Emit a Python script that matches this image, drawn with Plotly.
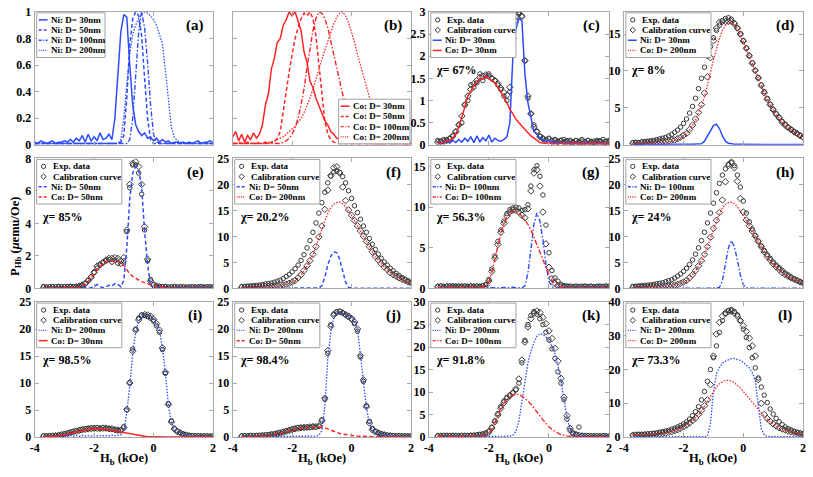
import plotly.graph_objects as go

FONT = "Liberation Serif"
W, H = 813, 477

# ---------------- x grids (kOe) ----------------
H_AB = [round(-4.0 + 0.1 * i, 1) for i in range(61)]
H_FIT = [round(-3.7 + 0.1 * i, 1) for i in range(58)]

# ---------------- (a) Ni reference curves (normalised) ----------------
a_ni30 = [0.02,0.01,0.03,0.02,0.01,0.02,0.03,0.01,0.02,0.02,
          0.03,0.02,0.04,0.02,0.05,0.03,0.07,0.02,0.08,0.03,
          0.06,0.03,0.09,0.04,0.05,0.08,0.04,0.2,0.55,0.85,
          0.98,0.96,0.6,0.3,0.15,0.1,0.07,0.09,0.05,0.06,
          0.03,0.05,0.02,0.04,0.02,0.03,0.01,0.02,0.02,0.01,
          0.02,0.01,0.02,0.01,0.02,0.03,0.01,0.02,0.02,0.03,0.02]
a_ni50 = [0.01,0.01,0.01,0.01,0.01,0.01,0.01,0.01,0.01,0.01,
          0.01,0.01,0.01,0.01,0.01,0.01,0.01,0.01,0.01,0.01,
          0.01,0.01,0.01,0.01,0.01,0.01,0.01,0.01,0.01,0.02,
          0.07,0.35,0.75,0.95,1.0,0.97,0.82,0.5,0.2,0.04,
          0.01,0.01,0.01,0.01,0.01,0.01,0.01,0.01,0.01,0.01,
          0.01,0.01,0.01,0.01,0.01,0.01,0.01,0.01,0.01,0.01,0.01]
a_ni100 = [0.01,0.01,0.01,0.01,0.01,0.01,0.01,0.01,0.01,0.01,
           0.01,0.01,0.01,0.01,0.01,0.01,0.01,0.01,0.01,0.01,
           0.01,0.01,0.01,0.01,0.01,0.01,0.01,0.01,0.01,0.01,
           0.01,0.01,0.04,0.2,0.52,0.85,1.0,0.88,0.62,0.3,
           0.08,0.02,0.01,0.01,0.01,0.01,0.01,0.01,0.01,0.01,
           0.01,0.01,0.01,0.01,0.01,0.01,0.01,0.01,0.01,0.01,0.01]
a_ni200 = [0.01,0.01,0.01,0.01,0.01,0.01,0.01,0.01,0.01,0.01,
           0.01,0.01,0.01,0.01,0.01,0.01,0.01,0.01,0.01,0.01,
           0.01,0.01,0.01,0.01,0.01,0.01,0.01,0.01,0.01,0.04,
           0.2,0.45,0.68,0.83,0.9,0.95,0.98,1.0,0.99,0.97,
           0.94,0.9,0.83,0.76,0.56,0.32,0.13,0.06,0.03,0.02,
           0.01,0.01,0.01,0.01,0.01,0.01,0.01,0.01,0.01,0.01,0.01]

# ---------------- (b) Co reference curves (normalised) ----------------
b_co30 = [0.06,0.1,0.03,0.08,0.02,0.07,0.04,0.09,0.05,0.08,
          0.15,0.3,0.38,0.57,0.65,0.77,0.8,0.9,0.94,1.0,
          0.97,1.0,0.93,0.86,0.7,0.62,0.48,0.43,0.35,0.3,
          0.24,0.18,0.15,0.1,0.08,0.05,0.04,0.03,0.02,0.02,
          0.01,0.02,0.01,0.01,0.02,0.01,0.01,0.02,0.01,0.01,
          0.01,0.01,0.02,0.01,0.01,0.01,0.02,0.01,0.01,0.01,0.01]
b_co50 = [0.01,0.01,0.02,0.01,0.01,0.02,0.01,0.01,0.02,0.01,
          0.01,0.02,0.01,0.02,0.02,0.05,0.1,0.25,0.42,0.55,
          0.68,0.8,0.88,0.95,0.99,0.97,1.0,0.95,0.82,0.6,
          0.36,0.18,0.08,0.04,0.02,0.01,0.01,0.01,0.01,0.01,
          0.01,0.01,0.01,0.01,0.01,0.01,0.01,0.01,0.01,0.01,
          0.01,0.01,0.01,0.01,0.01,0.01,0.01,0.01,0.01,0.01,0.01]
b_co100 = [0.01,0.01,0.01,0.01,0.01,0.01,0.01,0.01,0.01,0.01,
           0.01,0.01,0.01,0.01,0.01,0.01,0.01,0.02,0.03,0.05,
           0.08,0.13,0.2,0.3,0.42,0.58,0.72,0.86,0.95,1.0,
           0.99,0.95,0.88,0.78,0.68,0.57,0.47,0.38,0.3,0.24,
           0.18,0.13,0.09,0.06,0.04,0.03,0.02,0.01,0.01,0.01,
           0.01,0.01,0.01,0.01,0.01,0.01,0.01,0.01,0.01,0.01,0.01]
b_co200 = [0.01,0.01,0.01,0.01,0.01,0.01,0.01,0.01,0.01,0.01,
           0.01,0.01,0.02,0.02,0.03,0.04,0.05,0.06,0.08,0.1,
           0.12,0.14,0.17,0.2,0.24,0.29,0.35,0.42,0.5,0.57,
           0.64,0.71,0.78,0.85,0.91,0.96,0.99,1.0,0.97,0.92,
           0.85,0.77,0.68,0.6,0.51,0.43,0.36,0.3,0.25,0.21,
           0.17,0.14,0.11,0.09,0.07,0.06,0.05,0.04,0.03,0.03,0.02]

# ---------------- (c) ----------------
c_exp = [0.1,0.08,0.12,0.1,0.15,0.2,0.3,0.45,0.5,0.9,
         1.0,1.35,1.3,1.4,1.6,1.45,1.55,1.6,1.5,1.45,
         1.35,1.25,1.1,1.0,1.2,2.3,2.8,2.95,2.9,1.9,
         1.05,0.7,0.45,0.3,0.2,0.15,0.12,0.15,0.1,0.12,
         0.08,0.1,0.12,0.08,0.1,0.06,0.1,0.08,0.12,0.07,
         0.1,0.08,0.06,0.1,0.08,0.12,0.07,0.1]
c_cal = [0.06,0.07,0.08,0.1,0.13,0.2,0.3,0.45,0.65,0.9,
         1.1,1.25,1.38,1.45,1.52,1.55,1.58,1.55,1.5,1.45,
         1.38,1.28,1.18,1.12,1.3,2.4,2.9,3.0,2.9,1.9,
         1.1,0.7,0.4,0.3,0.18,0.14,0.1,0.12,0.08,0.09,
         0.07,0.09,0.06,0.08,0.07,0.06,0.08,0.05,0.07,0.06,
         0.08,0.05,0.07,0.06,0.08,0.05,0.07,0.06]
c_ni = [0.02,0.05,0.03,0.08,0.04,0.1,0.05,0.12,0.06,0.15,
        0.08,0.18,0.05,0.2,0.07,0.16,0.09,0.22,0.06,0.15,
        0.1,0.08,0.12,0.18,0.5,2.0,2.6,2.85,2.8,1.6,
        0.95,0.6,0.3,0.25,0.15,0.12,0.08,0.1,0.05,0.07,
        0.04,0.06,0.03,0.05,0.04,0.03,0.05,0.02,0.04,0.03,
        0.05,0.02,0.04,0.03,0.05,0.02,0.04,0.03]
c_co = [0.05,0.04,0.06,0.08,0.1,0.15,0.25,0.4,0.6,0.85,
        1.1,1.2,1.35,1.4,1.5,1.48,1.55,1.5,1.45,1.4,
        1.3,1.2,1.08,0.95,0.8,0.7,0.58,0.5,0.42,0.35,
        0.28,0.2,0.15,0.1,0.05,0.04,0.03,0.05,0.02,0.03,
        0.02,0.04,0.02,0.03,0.02,0.04,0.03,0.02,0.03,0.02,
        0.03,0.02,0.04,0.02,0.03,0.02,0.03,0.02]

# ---------------- (d) ----------------
d_exp = [0.3,0.35,0.3,0.4,0.45,0.5,0.55,0.6,0.7,0.8,
         0.9,1.0,1.2,1.4,1.7,2.0,2.4,2.9,3.5,4.3,
         5.2,6.3,7.6,9.0,10.5,12.0,13.3,14.5,15.5,16.2,
         16.8,17.1,17.2,17.0,16.5,15.8,15.0,14.1,13.1,12.1,
         11.1,10.1,9.1,8.1,7.2,6.3,5.5,4.8,4.2,3.7,
         3.2,2.8,2.4,2.1,1.8,1.5,1.3,1.0]
d_cal = [0.15,0.2,0.2,0.28,0.26,0.3,0.3,0.38,0.37,0.39,
         0.45,0.45,0.53,0.62,0.66,0.84,1.02,1.3,1.55,2.08,
         2.67,3.48,4.38,5.45,7.0,9.2,11.8,14.1,15.8,16.6,
         16.7,16.7,16.7,16.7,16.4,15.8,15.0,14.05,13.06,12.05,
         11.04,10.05,9.04,8.05,7.04,6.15,5.44,4.75,4.14,3.65,
         3.04,2.65,2.34,2.05,1.74,1.55,1.24,1.05]
d_ni = [0.05,0.08,0.04,0.1,0.06,0.08,0.05,0.1,0.07,0.06,
        0.09,0.05,0.08,0.1,0.06,0.09,0.07,0.1,0.05,0.08,
        0.07,0.08,0.08,0.15,0.5,1.2,2.0,2.6,2.8,2.2,
        1.2,0.5,0.2,0.1,0.08,0.07,0.06,0.05,0.06,0.05,
        0.04,0.05,0.04,0.05,0.04,0.05,0.04,0.05,0.04,0.05,
        0.04,0.05,0.04,0.05,0.04,0.05,0.04,0.05]
d_co = [0.1,0.12,0.15,0.18,0.2,0.22,0.25,0.28,0.3,0.33,
        0.36,0.4,0.45,0.52,0.6,0.75,0.95,1.2,1.5,2.0,
        2.6,3.4,4.3,5.3,6.5,8.0,9.8,11.5,13.0,14.4,
        15.5,16.2,16.5,16.6,16.3,15.7,14.9,14.0,13.0,12.0,
        11.0,10.0,9.0,8.0,7.0,6.1,5.4,4.7,4.1,3.6,
        3.0,2.6,2.3,2.0,1.7,1.5,1.2,1.0]

# ---------------- (e) ----------------
e_exp = [0.12,0.08,0.1,0.12,0.1,0.13,0.09,0.11,0.1,0.12,
         0.1,0.12,0.14,0.2,0.3,0.5,0.72,0.98,1.25,1.45,
         1.62,1.7,1.78,1.62,1.75,1.55,1.5,1.7,3.5,6.2,
         7.6,7.6,7.1,5.8,3.6,1.7,0.55,0.25,0.15,0.12,
         0.1,0.12,0.08,0.1,0.12,0.09,0.11,0.1,0.08,0.1,
         0.11,0.09,0.1,0.12,0.08,0.1,0.11,0.09]
e_cal = [0.05,0.06,0.05,0.06,0.05,0.07,0.06,0.08,0.08,0.1,
         0.08,0.1,0.15,0.22,0.3,0.48,0.7,1.0,1.38,1.48,
         1.6,1.75,1.85,1.85,1.9,1.85,1.7,1.9,3.6,6.4,
         7.7,7.8,7.5,6.4,3.8,1.8,0.45,0.2,0.15,0.1,
         0.08,0.06,0.05,0.05,0.05,0.05,0.05,0.05,0.05,0.05,
         0.05,0.05,0.05,0.05,0.05,0.05,0.05,0.05]
e_ni = [0.02,0.03,0.02,0.03,0.02,0.03,0.02,0.04,0.03,0.05,
        0.03,0.06,0.1,0.08,0.05,0.03,0.05,0.1,0.25,0.12,
        0.05,0.1,0.2,0.15,0.3,0.25,0.1,0.5,2.5,5.5,
        7.1,7.5,7.3,6.2,3.5,1.5,0.2,0.05,0.03,0.02,
        0.02,0.03,0.02,0.02,0.03,0.02,0.02,0.03,0.02,0.02,
        0.02,0.03,0.02,0.02,0.03,0.02,0.02,0.02]
e_co = [0.02,0.02,0.03,0.02,0.03,0.03,0.03,0.03,0.04,0.04,
        0.04,0.05,0.07,0.15,0.25,0.45,0.65,0.9,1.15,1.38,
        1.55,1.65,1.7,1.72,1.7,1.67,1.6,1.42,1.15,0.9,
        0.75,0.62,0.52,0.42,0.35,0.29,0.23,0.17,0.12,0.09,
        0.06,0.04,0.03,0.02,0.02,0.02,0.02,0.02,0.02,0.02,
        0.02,0.02,0.02,0.02,0.02,0.02,0.02,0.02]

# ---------------- (f) ----------------
f_exp = [0.35,0.4,0.45,0.5,0.55,0.6,0.65,0.75,0.85,0.95,
         1.05,1.2,1.4,1.6,1.9,2.3,2.7,3.2,3.8,4.5,
         5.4,6.5,7.8,9.2,10.8,12.6,14.5,16.5,18.5,20.3,
         21.6,22.4,22.6,22.3,21.5,20.3,18.8,17.3,15.9,14.6,
         13.3,12.0,10.8,9.6,8.5,7.5,6.6,5.8,5.1,4.5,
         3.9,3.4,2.9,2.5,2.1,1.8,1.5,1.2]
f_cal = [0.15,0.17,0.2,0.23,0.25,0.27,0.3,0.33,0.35,0.38,
         0.41,0.45,0.5,0.57,0.65,0.8,1.0,1.25,1.55,2.05,
         2.65,3.45,4.36,5.35,6.56,8.05,9.9,12.0,15.2,18.9,
         21.7,23.2,23.4,22.2,19.5,16.9,15.1,14.06,13.05,12.05,
         11.05,10.05,9.05,8.05,7.05,6.15,5.45,4.75,4.15,3.65,
         3.05,2.65,2.35,2.05,1.75,1.55,1.25,1.05]
f_ni = [0.05,0.06,0.05,0.05,0.06,0.05,0.05,0.06,0.05,0.05,
        0.05,0.06,0.05,0.05,0.06,0.05,0.05,0.06,0.05,0.05,
        0.05,0.05,0.06,0.05,0.06,0.05,0.1,0.5,2.2,4.5,
        6.2,7.0,6.9,5.6,3.2,1.2,0.2,0.06,0.05,0.05,
        0.05,0.06,0.05,0.05,0.06,0.05,0.05,0.06,0.05,0.05,
        0.05,0.06,0.05,0.05,0.06,0.05,0.05,0.05]
f_co = [0.1,0.12,0.15,0.18,0.2,0.22,0.25,0.28,0.3,0.33,
        0.36,0.4,0.45,0.52,0.6,0.75,0.95,1.2,1.5,2.0,
        2.6,3.4,4.3,5.3,6.5,8.0,9.8,11.5,13.0,14.4,
        15.5,16.2,16.5,16.6,16.3,15.7,14.9,14.0,13.0,12.0,
        11.0,10.0,9.0,8.0,7.0,6.1,5.4,4.7,4.1,3.6,
        3.0,2.6,2.3,2.0,1.7,1.5,1.2,1.0]

# ---------------- (g) ----------------
g_exp = [0.25,0.3,0.2,0.28,0.32,0.22,0.3,0.25,0.3,0.28,
         0.25,0.3,0.28,0.3,0.25,0.35,0.5,1.1,2.4,4.0,
         5.8,7.2,8.3,9.2,9.7,9.9,10.0,9.9,9.6,9.7,
         10.3,12.6,14.6,15.1,13.8,11.5,7.8,4.4,2.2,1.3,
         0.9,0.5,0.35,0.3,0.3,0.22,0.3,0.25,0.28,0.3,
         0.25,0.3,0.22,0.28,0.3,0.25,0.32,0.28]
g_cal = [0.2,0.24,0.2,0.24,0.2,0.27,0.2,0.24,0.2,0.24,
         0.2,0.24,0.2,0.24,0.21,0.28,0.35,0.92,2.1,3.72,
         5.4,6.92,8.0,8.92,9.4,9.65,9.6,9.42,9.0,8.7,
         9.8,12.0,14.2,14.6,12.6,9.4,5.5,2.6,1.2,0.63,
         0.35,0.23,0.16,0.14,0.12,0.13,0.11,0.14,0.12,0.13,
         0.12,0.14,0.11,0.13,0.12,0.14,0.11,0.13]
g_ni = [0.1,0.12,0.1,0.12,0.1,0.15,0.1,0.12,0.1,0.12,
        0.1,0.12,0.1,0.12,0.1,0.15,0.1,0.12,0.1,0.12,
        0.1,0.12,0.1,0.12,0.1,0.15,0.1,0.12,0.1,0.3,
        1.9,4.8,7.9,9.3,8.3,6.0,3.0,0.9,0.2,0.08,
        0.05,0.06,0.05,0.07,0.05,0.06,0.05,0.07,0.05,0.06,
        0.05,0.07,0.05,0.06,0.05,0.07,0.05,0.06]
g_co = [0.1,0.12,0.1,0.12,0.1,0.12,0.1,0.12,0.1,0.12,
        0.1,0.12,0.1,0.12,0.11,0.13,0.25,0.8,2.0,3.6,
        5.3,6.8,7.9,8.8,9.3,9.5,9.5,9.3,8.9,8.4,
        7.9,7.2,6.3,5.3,4.3,3.4,2.5,1.7,1.0,0.55,
        0.3,0.18,0.1,0.08,0.06,0.07,0.06,0.07,0.06,0.07,
        0.06,0.07,0.06,0.07,0.06,0.07,0.06,0.07]

# ---------------- (h) ----------------
h_exp = [0.4,0.45,0.5,0.55,0.6,0.65,0.7,0.8,0.9,1.0,
         1.1,1.3,1.5,1.7,2.0,2.4,2.8,3.3,3.9,4.6,
         5.5,6.6,7.8,9.2,10.8,12.6,14.5,16.4,18.4,20.2,
         21.8,23.0,23.9,24.2,23.6,21.8,19.5,16.8,14.5,12.8,
         11.4,10.2,9.1,8.2,7.3,6.5,5.8,5.1,4.5,4.0,
         3.5,3.0,2.6,2.2,1.9,1.6,1.3,1.1]
h_cal = [0.15,0.17,0.2,0.23,0.25,0.27,0.3,0.33,0.35,0.38,
         0.41,0.45,0.5,0.57,0.65,0.8,1.0,1.25,1.55,2.05,
         2.65,3.45,4.35,5.35,6.55,8.05,9.85,11.55,13.1,14.6,
         17.0,20.5,23.6,24.3,23.2,20.6,17.3,14.7,13.15,12.05,
         11.05,10.05,9.05,8.05,7.05,6.15,5.45,4.75,4.15,3.65,
         3.05,2.65,2.35,2.05,1.75,1.55,1.25,1.05]
h_ni = [0.05,0.06,0.05,0.05,0.06,0.05,0.05,0.06,0.05,0.05,
        0.05,0.06,0.05,0.05,0.06,0.05,0.05,0.06,0.05,0.05,
        0.05,0.05,0.06,0.05,0.06,0.05,0.05,0.06,0.05,0.2,
        1.5,4.5,7.8,9.2,8.0,5.5,2.6,0.7,0.15,0.05,
        0.05,0.06,0.05,0.05,0.06,0.05,0.05,0.06,0.05,0.05,
        0.05,0.06,0.05,0.05,0.06,0.05,0.05,0.05]
h_co = [0.1,0.12,0.15,0.18,0.2,0.22,0.25,0.28,0.3,0.33,
        0.36,0.4,0.45,0.52,0.6,0.75,0.95,1.2,1.5,2.0,
        2.6,3.4,4.3,5.3,6.5,8.0,9.8,11.5,13.0,14.4,
        15.5,16.2,16.5,16.6,16.3,15.7,14.9,14.0,13.0,12.0,
        11.0,10.0,9.0,8.0,7.0,6.1,5.4,4.7,4.1,3.6,
        3.0,2.6,2.3,2.0,1.7,1.5,1.2,1.0]

# ---------------- (i) ----------------
i_exp = [0.2,0.15,0.22,0.2,0.3,0.35,0.5,0.6,0.75,0.9,
         1.05,1.2,1.3,1.45,1.55,1.6,1.7,1.65,1.75,1.6,
         1.7,1.6,1.55,1.45,1.35,1.2,1.3,1.9,5.0,10.1,
         16.3,20.0,22.0,22.6,22.5,22.3,22.0,21.5,20.6,19.4,
         16.2,11.8,6.2,3.0,1.6,1.1,0.8,0.55,0.4,0.3,
         0.25,0.2,0.22,0.15,0.2,0.18,0.15,0.2]
i_cal = [0.13,0.14,0.15,0.18,0.22,0.3,0.4,0.52,0.65,0.8,
         0.95,1.08,1.2,1.32,1.42,1.5,1.56,1.6,1.6,1.58,
         1.65,1.65,1.52,1.52,1.35,1.28,1.25,1.72,5.1,10.0,
         15.9,19.8,21.7,22.5,22.7,22.6,22.4,21.8,21.0,19.8,
         16.5,12.0,6.0,2.8,1.5,1.0,0.8,0.5,0.35,0.2,
         0.15,0.12,0.1,0.1,0.08,0.08,0.06,0.06]
i_ni = [0.1,0.15,0.1,0.2,0.12,0.25,0.1,0.2,0.15,0.3,
        0.15,0.25,0.1,0.3,0.2,0.25,0.15,0.3,0.2,0.25,
        0.2,0.25,0.2,0.3,0.25,0.3,0.4,1.0,4.5,9.5,
        15.5,19.5,21.5,22.3,22.6,22.5,22.3,21.8,21.0,19.8,
        16.5,12.0,6.0,2.8,1.5,1.0,0.8,0.5,0.35,0.2,
        0.15,0.1,0.1,0.08,0.08,0.06,0.06,0.05]
i_co = [0.03,0.04,0.05,0.08,0.12,0.2,0.3,0.42,0.55,0.7,
        0.85,0.98,1.1,1.22,1.32,1.4,1.46,1.5,1.5,1.48,
        1.45,1.4,1.32,1.22,1.1,0.98,0.85,0.72,0.6,0.48,
        0.38,0.3,0.22,0.16,0.12,0.08,0.05,0.04,0.03,0.02,
        0.02,0.02,0.02,0.02,0.02,0.02,0.02,0.02,0.02,0.02,
        0.02,0.02,0.02,0.02,0.02,0.02,0.02,0.02]

# ---------------- (j) ----------------
j_exp = [0.2,0.25,0.15,0.3,0.2,0.28,0.3,0.35,0.4,0.45,
         0.55,0.6,0.75,0.85,1.0,1.15,1.3,1.5,1.6,1.75,
         1.8,1.7,1.85,1.75,1.9,1.8,2.0,3.2,7.0,15.5,
         20.8,22.8,23.2,23.3,23.0,22.6,22.2,21.8,21.0,19.6,
         14.8,10.3,5.8,2.9,1.6,1.1,0.8,0.6,0.45,0.35,
         0.3,0.25,0.2,0.25,0.2,0.22,0.18,0.2]
j_cal = [0.1,0.12,0.12,0.14,0.15,0.16,0.18,0.2,0.24,0.3,
         0.38,0.48,0.6,0.74,0.9,1.06,1.22,1.38,1.52,1.62,
         1.7,1.78,1.8,1.87,1.94,1.91,2.08,3.0,7.2,16.0,
         20.5,22.6,23.1,23.2,23.0,22.7,22.4,22.0,21.3,20.0,
         15.1,10.6,5.6,2.6,1.35,0.95,0.75,0.55,0.4,0.25,
         0.2,0.15,0.12,0.1,0.1,0.08,0.08,0.07]
j_ni = [0.08,0.1,0.09,0.1,0.1,0.1,0.1,0.1,0.1,0.1,
        0.1,0.1,0.1,0.1,0.1,0.1,0.1,0.1,0.1,0.1,
        0.1,0.12,0.1,0.15,0.2,0.15,0.3,1.2,5.5,14.5,
        19.5,22.0,22.8,23.0,22.9,22.7,22.4,22.0,21.3,20.0,
        15.0,10.5,5.5,2.5,1.3,0.9,0.7,0.5,0.35,0.2,
        0.15,0.12,0.1,0.08,0.08,0.06,0.06,0.05]
j_co = [0.02,0.03,0.03,0.04,0.05,0.06,0.08,0.1,0.14,0.2,
        0.28,0.38,0.5,0.64,0.8,0.96,1.12,1.28,1.42,1.52,
        1.6,1.66,1.7,1.72,1.74,1.76,1.78,1.8,1.7,1.5,
        1.25,1.0,0.8,0.65,0.52,0.42,0.35,0.28,0.22,0.17,
        0.13,0.1,0.08,0.06,0.05,0.04,0.03,0.03,0.02,0.02,
        0.02,0.02,0.02,0.02,0.02,0.02,0.02,0.02]

# ---------------- (k) ----------------
k_exp = [0.25,0.2,0.3,0.22,0.28,0.25,0.3,0.2,0.28,0.3,
         0.3,0.35,0.4,0.5,0.6,0.7,0.9,1.3,2.2,3.6,
         5.2,6.8,8.0,8.8,9.3,9.8,10.5,12.0,16.5,21.5,
         25.0,27.0,27.9,27.3,26.3,25.0,23.3,21.6,19.6,17.5,
         14.5,12.0,8.3,4.0,1.5,0.7,0.5,2.2,0.3,0.25,
         0.3,0.25,0.2,0.28,0.22,0.3,0.25,0.2]
k_cal = [0.2,0.22,0.2,0.24,0.2,0.25,0.22,0.2,0.24,0.22,
         0.2,0.24,0.2,0.3,0.4,0.5,0.7,1.1,2.0,3.4,
         4.9,6.4,7.6,8.55,9.2,9.8,10.7,12.9,17.1,21.1,
         24.5,26.3,27.5,28.0,27.7,26.6,25.2,23.6,21.9,19.7,
         16.85,13.05,8.85,4.75,1.95,0.9,0.58,0.36,0.25,0.2,
         0.15,0.15,0.12,0.12,0.1,0.1,0.1,0.1]
k_ni = [0.1,0.12,0.1,0.12,0.1,0.12,0.1,0.12,0.1,0.12,
        0.1,0.12,0.1,0.12,0.1,0.12,0.1,0.12,0.1,0.12,
        0.1,0.12,0.1,0.15,0.2,0.4,1.2,3.5,8.0,12.5,
        16.5,19.0,21.0,22.4,23.0,22.8,22.2,21.3,20.2,18.5,
        16.0,12.5,8.5,4.5,1.8,0.8,0.5,0.3,0.2,0.15,
        0.1,0.1,0.1,0.1,0.1,0.1,0.1,0.1]
k_co = [0.1,0.1,0.1,0.12,0.1,0.12,0.1,0.1,0.12,0.1,
        0.1,0.12,0.1,0.15,0.2,0.3,0.5,0.9,1.8,3.2,
        4.8,6.3,7.5,8.4,9.0,9.4,9.5,9.4,9.1,8.6,
        8.0,7.3,6.5,5.6,4.7,3.8,3.0,2.3,1.7,1.2,
        0.85,0.55,0.35,0.25,0.15,0.1,0.08,0.06,0.05,0.05,
        0.05,0.05,0.05,0.05,0.05,0.05,0.05,0.05]

# ---------------- (l) ----------------
l_exp = [0.5,0.6,0.7,0.7,0.8,0.9,1.0,1.1,1.2,1.4,
         1.6,1.8,2.0,2.3,2.6,3.0,3.4,3.9,4.5,5.3,
         6.3,7.5,9.0,11.0,13.5,16.5,20.0,23.5,27.0,31.0,
         34.5,36.5,37.5,37.8,37.2,36.2,34.5,32.0,29.5,26.5,
         23.5,20.5,17.5,14.8,12.4,10.2,8.3,6.8,5.5,4.5,
         3.7,3.0,2.5,2.1,1.7,1.4,1.2,1.0]
l_cal = [0.55,0.6,0.65,0.67,0.7,0.75,0.8,0.85,0.9,0.97,
         1.05,1.15,1.35,1.55,1.85,2.15,2.55,3.05,3.55,4.15,
         4.85,5.65,6.7,7.85,9.3,11.0,15.5,24.0,30.5,34.0,
         35.8,36.8,37.2,37.3,36.8,35.8,34.5,33.0,31.3,29.3,
         27.0,24.0,17.0,10.0,6.7,5.5,4.65,3.9,3.28,2.76,
         2.35,2.05,1.75,1.55,1.35,1.15,1.05,0.95]
l_ni = [0.05,0.05,0.05,0.05,0.05,0.05,0.05,0.05,0.05,0.05,
        0.05,0.05,0.05,0.05,0.05,0.05,0.05,0.05,0.05,0.05,
        0.05,0.05,0.08,0.05,0.08,0.3,4.0,13.5,18.8,20.6,
        21.9,22.5,22.9,23.2,23.3,23.1,22.7,22.1,21.4,20.5,
        19.0,17.0,9.5,2.5,0.6,0.2,0.1,0.08,0.06,0.05,
        0.05,0.05,0.05,0.05,0.05,0.05,0.05,0.05]
l_co = [0.5,0.55,0.6,0.62,0.65,0.7,0.75,0.8,0.85,0.92,
        1.0,1.1,1.3,1.5,1.8,2.1,2.5,3.0,3.5,4.1,
        4.8,5.6,6.6,7.8,9.2,10.7,12.2,13.6,14.8,15.8,
        16.4,16.8,16.8,16.6,16.1,15.4,14.5,13.5,12.4,11.3,
        10.2,9.1,8.0,7.0,6.1,5.2,4.5,3.8,3.2,2.7,
        2.3,2.0,1.7,1.5,1.3,1.1,1.0,0.9]

# ---------------- panel metadata ----------------
tags = ["(a)", "(b)", "(c)", "(d)", "(e)", "(f)", "(g)", "(h)", "(i)", "(j)", "(k)", "(l)"]
chi_labels = [None, None, "67%", "8%", "85%", "20.2%", "56.3%", "24%", "98.5%", "98.4%", "91.8%", "73.3%"]
ni_sizes = [None, None, 30, 30, 50, 50, 100, 100, 200, 200, 200, 200]
co_sizes = [None, None, 30, 200, 50, 200, 100, 200, 30, 50, 100, 200]
y_ranges = [[0, 1], [0, 1], [0, 3], [0, 18], [0, 8], [0, 25], [0, 16], [0, 25], [0, 25], [0, 25], [0, 30], [0, 40]]
y_ticks = [[0, 0.2, 0.4, 0.6, 0.8, 1], [0, 0.2, 0.4, 0.6, 0.8, 1], [0, 0.5, 1, 1.5, 2, 2.5, 3],
           [0, 5, 10, 15], [0, 2, 4, 6, 8], [0, 5, 10, 15, 20, 25], [0, 5, 10, 15],
           [0, 5, 10, 15, 20, 25], [0, 5, 10, 15, 20, 25], [0, 5, 10, 15, 20, 25],
           [0, 5, 10, 15, 20, 25, 30], [0, 10, 20, 30, 40]]
x_ticks = [-4, -2, 0, 2]
x_ticktext = ["-4", "-2", "0", "2"]
fit_data = [None, None,
            (c_exp, c_cal, c_ni, c_co), (d_exp, d_cal, d_ni, d_co),
            (e_exp, e_cal, e_ni, e_co), (f_exp, f_cal, f_ni, f_co),
            (g_exp, g_cal, g_ni, g_co), (h_exp, h_cal, h_ni, h_co),
            (i_exp, i_cal, i_ni, i_co), (j_exp, j_cal, j_ni, j_co),
            (k_exp, k_cal, k_ni, k_co), (l_exp, l_cal, l_ni, l_co)]
ref_sizes = [30, 50, 100, 200]
ref_ni = [a_ni30, a_ni50, a_ni100, a_ni200]
ref_co = [b_co30, b_co50, b_co100, b_co200]

# ---------------- styles ----------------
NI_COLOR = "#2d4bff"
CO_COLOR = "#ff2323"
MK_COLOR = "#3a3a3a"
DASH = {30: "solid", 50: "4px,2.5px", 100: "5px,2px,1.5px,2px", 200: "1.5px,1.5px"}
LEG_DASH = {30: "solid", 50: "3px,2px", 100: "3px,1.5px,1px,1.5px", 200: "1px,1.2px"}
WIDTH = {30: 1.5, 50: 1.5, 100: 1.4, 200: 1.3}
COLS = [(30, 210), (230, 410), (428, 610), (625, 806)]
ROWS = [(5, 142), (156, 290), (304, 443)]
AX_COLOR = "#a8a8a8"
LEG_PITCH = 10.5
LEG_FONT = dict(family=FONT, size=9, color="black", weight="bold")

fig = go.Figure()
shapes = []
annotations = []


def px_x(v):
    return v / W


def px_y(v):
    return 1 - v / H


def ax_suffix(k):
    return "" if k == 0 else str(k + 1)


def add_line(k, xs, ys, name, color, size):
    s = ax_suffix(k)
    fig.add_trace(go.Scatter(
        x=xs, y=ys, mode="lines", name=name, showlegend=False,
        line=dict(color=color, width=WIDTH[size], dash=DASH[size]),
        xaxis="x" + s, yaxis="y" + s, hoverinfo="skip"))


def add_markers(k, ys, name, symbol, size):
    s = ax_suffix(k)
    fig.add_trace(go.Scatter(
        x=H_FIT, y=ys, mode="markers", name=name, showlegend=False,
        marker=dict(symbol=symbol, size=size, color=MK_COLOR, line=dict(width=1, color=MK_COLOR)),
        xaxis="x" + s, yaxis="y" + s, hoverinfo="skip"))


def add_legend(bx0, by0, bw, entries):
    """Draw a compact legend box: entries = list of (kind, style, label)."""
    bh = len(entries) * LEG_PITCH + 4
    shapes.append(dict(type="rect", xref="paper", yref="paper",
                       x0=px_x(bx0), x1=px_x(bx0 + bw), y0=px_y(by0 + bh), y1=px_y(by0),
                       line=dict(color="#a0a0a0", width=1), fillcolor="white", layer="above"))
    for i, (kind, style, label) in enumerate(entries):
        ly = by0 + 2 + LEG_PITCH * (i + 0.5)
        if kind == "line":
            color, size = style
            shapes.append(dict(type="line", xref="paper", yref="paper",
                               x0=px_x(bx0 + 2), x1=px_x(bx0 + 11), y0=px_y(ly), y1=px_y(ly),
                               line=dict(color=color, width=WIDTH[size], dash=LEG_DASH[size])))
            tx = bx0 + 12
        else:
            cx = bx0 + 7
            if style == "circle":
                r = 2.2
                shapes.append(dict(type="circle", xref="paper", yref="paper",
                                   x0=px_x(cx - r), x1=px_x(cx + r), y0=px_y(ly + r), y1=px_y(ly - r),
                                   line=dict(color=MK_COLOR, width=1)))
            else:
                r = 2.8
                path = "M %.5f,%.5f L %.5f,%.5f L %.5f,%.5f L %.5f,%.5f Z" % (
                    px_x(cx), px_y(ly - r), px_x(cx + r), px_y(ly),
                    px_x(cx), px_y(ly + r), px_x(cx - r), px_y(ly))
                shapes.append(dict(type="path", xref="paper", yref="paper", path=path,
                                   line=dict(color=MK_COLOR, width=1)))
            tx = bx0 + 14
        annotations.append(dict(x=px_x(tx), y=px_y(ly), xref="paper", yref="paper", text=label,
                                showarrow=False, xanchor="left", yanchor="middle", font=LEG_FONT))


# (a) and (b)
for d, ys in zip(ref_sizes, ref_ni):
    add_line(0, H_AB, ys, "Ni: D= %dnm" % d, NI_COLOR, d)
for d, ys in zip(ref_sizes, ref_co):
    add_line(1, H_AB, ys, "Co: D= %dnm" % d, CO_COLOR, d)

# (c) .. (l)
for k in range(2, 12):
    exp_y, cal_y, ni_y, co_y = fit_data[k]
    add_markers(k, exp_y, "Exp. data", "circle-open", 4.5)
    add_markers(k, cal_y, "Calibration curve", "diamond-open", 5)
    add_line(k, H_FIT, ni_y, "Ni: D= %dnm" % ni_sizes[k], NI_COLOR, ni_sizes[k])
    add_line(k, H_FIT, co_y, "Co: D= %dnm" % co_sizes[k], CO_COLOR, co_sizes[k])

layout = dict(
    width=W, height=H, margin=dict(l=0, r=0, t=0, b=0),
    paper_bgcolor="white", plot_bgcolor="white", showlegend=False,
    font=dict(family=FONT, color="black"),
)
tick_font = dict(family=FONT, size=12, color="black", weight="bold")

for k in range(12):
    r, c = divmod(k, 4)
    x0, x1 = COLS[c]
    y0, y1 = ROWS[r]
    s = ax_suffix(k)
    layout["xaxis" + s] = dict(
        domain=[x0 / W, x1 / W], anchor="y" + s, range=[-4, 2],
        tickvals=x_ticks, ticktext=x_ticktext, showticklabels=(r == 2),
        ticks="inside", ticklen=4, tickcolor=AX_COLOR, showline=True, linecolor=AX_COLOR,
        linewidth=1, mirror="ticks", showgrid=False, zeroline=False, tickfont=tick_font)
    layout["yaxis" + s] = dict(
        domain=[1 - y1 / H, 1 - y0 / H], anchor="x" + s, range=y_ranges[k],
        tickvals=y_ticks[k], showticklabels=(k != 1),
        ticks="inside", ticklen=4, tickcolor=AX_COLOR, showline=True, linecolor=AX_COLOR,
        linewidth=1, mirror="ticks", showgrid=False, zeroline=False, tickfont=tick_font)
    # legends
    if k == 0:
        add_legend(x0 + 2, y0 + 1, 69,
                   [("line", (NI_COLOR, d), "Ni: D= %dnm" % d) for d in ref_sizes])
    elif k == 1:
        bw = 72
        bh = 4 * LEG_PITCH + 4
        add_legend(x1 - 1 - bw, y1 - 1 - bh, bw,
                   [("line", (CO_COLOR, d), "Co: D= %dnm" % d) for d in ref_sizes])
    else:
        add_legend(x0 + 2, y0 + 1, 86, [
            ("marker", "circle", "Exp. data"),
            ("marker", "diamond", "Calibration curve"),
            ("line", (NI_COLOR, ni_sizes[k]), "Ni: D= %dnm" % ni_sizes[k]),
            ("line", (CO_COLOR, co_sizes[k]), "Co: D= %dnm" % co_sizes[k]),
        ])
    # panel tag
    annotations.append(dict(
        x=px_x(x1 - 18), y=px_y(y0 + 14), xref="paper", yref="paper",
        text=tags[k], showarrow=False, xanchor="center", yanchor="middle",
        font=dict(family=FONT, size=15, color="black", weight="bold")))
    if chi_labels[k]:
        annotations.append(dict(
            x=px_x(x0 + 5), y=px_y(y0 + 60), xref="paper", yref="paper",
            text="\u03c7= " + chi_labels[k], showarrow=False, xanchor="left", yanchor="middle",
            font=dict(family=FONT, size=12, color="black", weight="bold")))
    if r == 2:
        annotations.append(dict(
            x=px_x((x0 + x1) / 2), y=px_y(466), xref="paper", yref="paper",
            text="H<sub>b</sub> (kOe)", showarrow=False, xanchor="center", yanchor="middle",
            font=dict(family=FONT, size=12.5, color="black", weight="bold")))

annotations.append(dict(
    x=px_x(11), y=px_y(236), xref="paper", yref="paper", textangle=-90,
    text="P<sub>Hb</sub> (<i>\u03bc</i>emu/Oe)", showarrow=False, xanchor="center", yanchor="middle",
    font=dict(family=FONT, size=12.5, color="black", weight="bold")))

layout["annotations"] = annotations
layout["shapes"] = shapes
fig.update_layout(**layout)
fig.write_html("out.html", config={"displayModeBar": False},
               post_script="document.body.style.margin='0';")
